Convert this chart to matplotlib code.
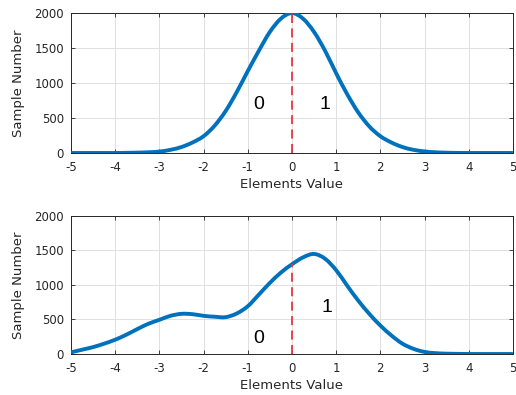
import numpy as np
import matplotlib.pyplot as plt
from matplotlib.path import Path
from matplotlib.patches import PathPatch

plt.rcParams['axes.unicode_minus'] = False

# x positions the values were read at
x_vals = [-5, -4.75, -4.5, -4.25, -4, -3.75, -3.5, -3.25, -3, -2.75, -2.5, -2.25, -2,
          -1.75, -1.5, -1.25, -1, -0.75, -0.5, -0.25, 0, 0.25, 0.5, 0.75, 1, 1.25, 1.5,
          1.75, 2, 2.25, 2.5, 2.75, 3, 3.25, 3.5, 3.75, 4, 4.25, 4.5, 4.75, 5]

# top panel (symmetric bump)
top_counts = [0, 0, 0, 0, 0, 2, 5, 10, 20, 45, 85, 150, 240,
              390, 600, 870, 1170, 1460, 1730, 1920, 2000, 1920, 1730, 1460, 1140, 840, 580,
              380, 240, 150, 85, 45, 22, 10, 4, 1, 0, 0, 0, 0, 0]

# bottom panel (shifted, with shoulder on the left)
bottom_counts = [24, 62, 100, 150, 207, 279, 361, 438, 495, 553, 582, 577, 553,
                 540, 534, 587, 692, 860, 1030, 1180, 1300, 1400, 1450, 1380, 1215, 990, 774,
                 582, 413, 269, 150, 75, 30, 12, 5, 2, 0, 0, 0, 0, 0]

x_ticks = [-5, -4, -3, -2, -1, 0, 1, 2, 3, 4, 5]
y_ticks = [0, 500, 1000, 1500, 2000]

blue = (0, 0.447, 0.741)
txt = (0.15, 0.15, 0.15)


def smooth_path(xs, ys):
    # catmull-rom through the read points, drawn as bezier segments
    p = np.column_stack([xs, ys]).astype(float)
    ext = np.vstack([p[0], p, p[-1]])
    verts = [p[0]]
    codes = [Path.MOVETO]
    for i in range(1, len(ext) - 2):
        p0, p1, p2, p3 = ext[i - 1], ext[i], ext[i + 1], ext[i + 2]
        verts += [p1 + (p2 - p0) / 6, p2 - (p3 - p1) / 6, p2]
        codes += [Path.CURVE4] * 3
    return Path(verts, codes)


fig = plt.figure(figsize=(5.16, 3.95), dpi=100)
ax1 = fig.add_axes([0.1376, 0.6127, 0.8564, 0.3543])
ax2 = fig.add_axes([0.1376, 0.1038, 0.8564, 0.3494])

panels = [(ax1, top_counts, [(-0.75, 700, '0'), (0.75, 700, '1')]),
          (ax2, bottom_counts, [(-0.75, 230, '0'), (0.8, 670, '1')])]

for ax, counts, labels in panels:
    ax.add_patch(PathPatch(smooth_path(x_vals, counts), fill=False, edgecolor=blue,
                           lw=2.8, zorder=3, capstyle='butt'))
    y0 = counts[x_vals.index(0)]
    ax.plot([0, 0], [0, y0], color=(0.93, 0.2, 0.25), lw=1.3, ls=(0, (5, 3)), zorder=4)
    for lx, ly, s in labels:
        ax.text(lx, ly, s, fontsize=14, ha='center', va='center', color='black',
                family='Liberation Sans')
    ax.set_xlim(-5, 5)
    ax.set_ylim(0, 2000)
    ax.set_xticks(x_ticks)
    ax.set_yticks(y_ticks)
    ax.grid(True, color=(0.88, 0.88, 0.88), lw=0.7)
    ax.set_axisbelow(True)
    ax.tick_params(direction='in', top=True, right=True, labelsize=8.5,
                   colors=txt, length=3, width=0.6)
    ax.tick_params(axis='x', pad=6)
    ax.tick_params(axis='y', pad=5)
    for sp in ax.spines.values():
        sp.set_color(txt)
        sp.set_linewidth(0.7)
    ax.set_xlabel('Elements Value', fontsize=9.5, color=txt, labelpad=3)
    ax.set_ylabel('Sample Number', fontsize=9.5, color=txt, labelpad=7)

fig.savefig('out.png', dpi=100)
